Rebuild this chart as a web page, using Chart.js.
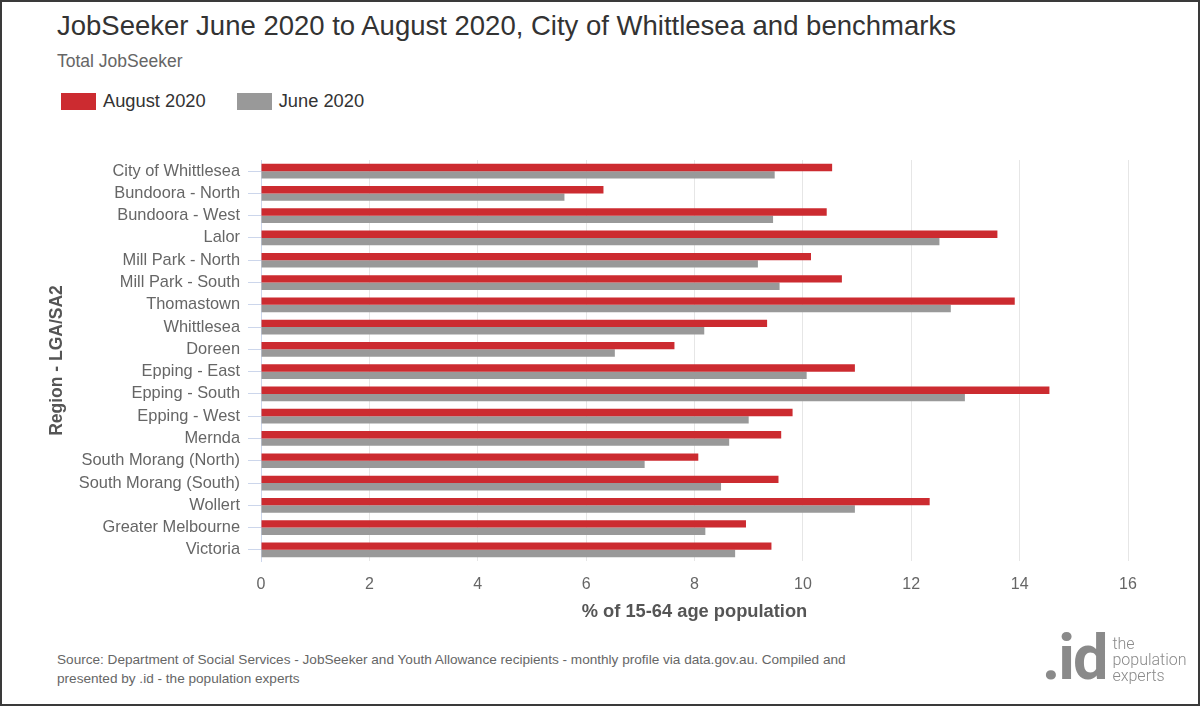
<!DOCTYPE html>
<html>
<head>
<meta charset="utf-8">
<title>JobSeeker June 2020 to August 2020</title>
<script src="https://cdn.jsdelivr.net/npm/chart.js@4/dist/chart.umd.min.js"></script>
<style>
    html, body { margin: 0; padding: 0; }
    body {
        width: 1200px;
        height: 706px;
        box-sizing: border-box;
        border: 2px solid #3a3a3a;
        position: relative;
        overflow: hidden;
        background: #fff;
        font-family: 'Liberation Sans', Arial, sans-serif;
    }
    .title { position: absolute; left: 55px; top: 8px; font-size: 27.5px; color: #333; }
    .subtitle { position: absolute; left: 55px; top: 49px; font-size: 17.5px; color: #666; }
    .legend { position: absolute; left: 59px; top: 88px; font-size: 18.3px; color: #333; display: flex; }
    .legend span.item { display: flex; align-items: center; margin-right: 31px; }
    .legend span.box { display: inline-block; width: 35px; height: 17px; margin-right: 7px; }
    .chart-wrap { position: absolute; left: -2px; top: 138px; width: 1200px; height: 491px; }
    .source { position: absolute; left: 55px; top: 648px; font-size: 13.6px; line-height: 19px; color: #666; width: 800px; }
    .logo { position: absolute; left: 1040px; top: 626px; color: #8a8a8a; display: flex; align-items: flex-start; }
    .logo .id { font-family: Roboto, sans-serif; font-weight: 700; font-size: 63px; line-height: 60px; letter-spacing: -2px; }
    .logo .tag { font-family: Roboto, sans-serif; font-weight: 300; font-size: 16px; line-height: 16px; margin-left: 6px; margin-top: 8px; }
</style>
</head>
<body>
<div class="title">JobSeeker June 2020 to August 2020, City of Whittlesea and benchmarks</div>
<div class="subtitle">Total JobSeeker</div>
<div class="legend" id="legend"></div>
<div class="chart-wrap"><canvas id="chart"></canvas></div>
<div class="source">Source: Department of Social Services - JobSeeker and Youth Allowance recipients - monthly profile via data.gov.au. Compiled and presented by .id - the population experts</div>
<div class="logo"><span class="id">.id</span><span class="tag">the<br>population<br>experts</span></div>

<script>
const regions = [
    'City of Whittlesea', 'Bundoora - North', 'Bundoora - West', 'Lalor',
    'Mill Park - North', 'Mill Park - South', 'Thomastown', 'Whittlesea',
    'Doreen', 'Epping - East', 'Epping - South', 'Epping - West', 'Mernda',
    'South Morang (North)', 'South Morang (South)', 'Wollert',
    'Greater Melbourne', 'Victoria'
];
const august2020 = [10.54, 6.32, 10.44, 13.59, 10.15, 10.72, 13.91, 9.34, 7.63,
    10.96, 14.55, 9.81, 9.60, 8.07, 9.55, 12.34, 8.95, 9.42];
const june2020 = [9.48, 5.60, 9.45, 12.52, 9.17, 9.57, 12.73, 8.18, 6.53,
    10.07, 12.99, 9.00, 8.64, 7.08, 8.49, 10.96, 8.20, 8.75];
const xTicks = [0, 2, 4, 6, 8, 10, 12, 14, 16];

const series = [
    { label: 'August 2020', data: august2020, color: '#cc2b30' },
    { label: 'June 2020', data: june2020, color: '#999999' }
];

function buildLegend() {
    const el = document.getElementById('legend');
    series.forEach(s => {
        const item = document.createElement('span');
        item.className = 'item';
        item.innerHTML = `<span class="box" style="background:${s.color}"></span>${s.label}`;
        el.appendChild(item);
    });
}

function createChart() {
    const ctx = document.getElementById('chart').getContext('2d');
    const font = "'Liberation Sans', Arial, sans-serif";

    new Chart(ctx, {
        type: 'bar',
        data: {
            labels: regions,
            datasets: series.map(s => ({
                label: s.label,
                data: s.data,
                backgroundColor: s.color,
                borderWidth: 0,
                categoryPercentage: 0.66,
                barPercentage: 1
            }))
        },
        options: {
            indexAxis: 'y',
            responsive: true,
            maintainAspectRatio: false,
            animation: false,
            layout: { padding: { left: 40, right: 72, top: 20, bottom: 0 } },
            plugins: {
                legend: { display: false },
                tooltip: { enabled: false }
            },
            scales: {
                x: {
                    min: xTicks[0],
                    max: xTicks[xTicks.length - 1],
                    afterBuildTicks: axis => { axis.ticks = xTicks.map(v => ({ value: v })); },
                    afterFit: axis => { axis.height = 70; },
                    grid: { color: '#e6e6e6', drawTicks: false },
                    border: { display: false },
                    ticks: { color: '#666', padding: 14, font: { family: font, size: 16 } },
                    title: {
                        display: true,
                        text: '% of 15-64 age population',
                        color: '#555',
                        padding: { top: 0, bottom: 8 },
                        font: { family: font, size: 18.3, weight: 'bold' }
                    }
                },
                y: {
                    afterFit: axis => { axis.width = 221; },
                    grid: {
                        drawOnChartArea: false,
                        offset: false,
                        tickLength: 13,
                        color: '#ccd6eb'
                    },
                    border: { display: true, color: '#ccd6eb' },
                    ticks: { color: '#666', padding: 8, autoSkip: false, font: { family: font, size: 16.4 } },
                    title: {
                        display: true,
                        text: 'Region - LGA/SA2',
                        color: '#555',
                        padding: { top: 7, bottom: 0 },
                        font: { family: font, size: 17.5, weight: 'bold' }
                    }
                }
            }
        }
    });
}

document.addEventListener('DOMContentLoaded', () => {
    buildLegend();
    createChart();
});
</script>
</body>
</html>
